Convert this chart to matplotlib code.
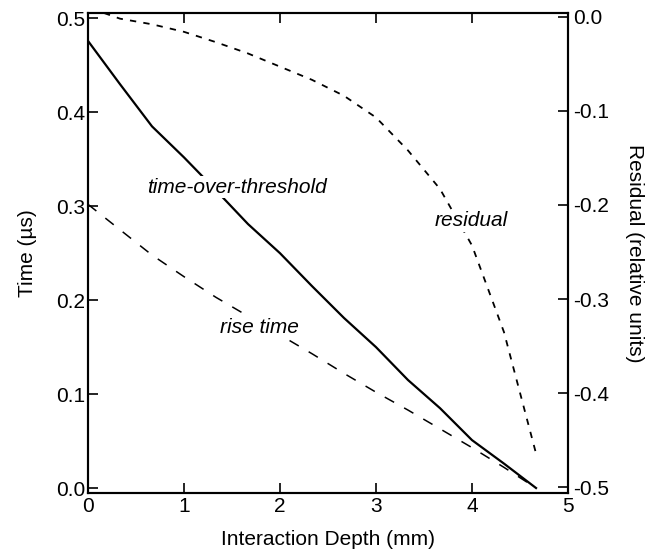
import matplotlib
matplotlib.use("Agg")
import matplotlib.pyplot as plt
import numpy as np

plt.rcParams['font.family'] = ['Liberation Sans', 'DejaVu Sans']
plt.rcParams['axes.unicode_minus'] = False

# interaction depth (mm)
depth = [0.0, 0.333, 0.667, 1.0, 1.333, 1.667, 2.0, 2.333, 2.667,
         3.0, 3.333, 3.667, 4.0, 4.333, 4.667]
# time-over-threshold (us)
tot = [0.476, 0.430, 0.385, 0.352, 0.317, 0.281, 0.250, 0.215, 0.181,
       0.150, 0.115, 0.085, 0.051, 0.026, 0.0]
# rise time (us)
rise = [0.302, 0.275, 0.248, 0.225, 0.203, 0.183, 0.163, 0.143, 0.122,
        0.102, 0.083, 0.063, 0.043, 0.022, 0.0]
# residual (relative units), right axis
res_depth = [0.167, 0.333, 0.667, 1.0, 1.333, 1.667, 2.0, 2.333, 2.667,
             3.0, 3.333, 3.667, 4.0, 4.333, 4.667]
residual = [0.004, -0.002, -0.008, -0.016, -0.027, -0.039, -0.053, -0.067,
            -0.084, -0.107, -0.142, -0.183, -0.243, -0.335, -0.464]

fig = plt.figure(figsize=(6.6, 5.58), dpi=100)
ax = fig.add_axes([0.1333, 0.1165, 0.7273, 0.8602])
ax2 = ax.twinx()

ax.plot(depth, tot, color='black', lw=1.6)
ax.plot(depth, rise, color='black', lw=1.1, dashes=(7, 7.5))
ax2.plot(res_depth, residual, color='black', lw=1.3, dashes=(3.5, 4))

ax.set_xlim(0, 5)
ax.set_ylim(-0.0053, 0.5057)
ax2.set_ylim(-0.506, 0.004)

ax.set_xticks([0, 1, 2, 3, 4, 5])
ax.set_yticks([0.0, 0.1, 0.2, 0.3, 0.4, 0.5])
ax.set_yticklabels(['0.0', '0.1', '0.2', '0.3', '0.4', '0.5'])
ax2.set_yticks([0.0, -0.1, -0.2, -0.3, -0.4, -0.5])
ax2.set_yticklabels(['0.0', '-0.1', '-0.2', '-0.3', '-0.4', '-0.5'])

for a in (ax, ax2):
    for s in a.spines.values():
        s.set_linewidth(1.5)

ax.tick_params(axis='x', direction='in', length=7, width=1.2, labelsize=15,
               top=True, pad=3)
ax.tick_params(axis='y', direction='in', length=7, width=1.2, labelsize=15,
               pad=2)
ax2.tick_params(axis='y', direction='in', length=7, width=1.2, labelsize=15,
                pad=4)

ax.set_xlabel('Interaction Depth (mm)', fontsize=15, labelpad=10)
ax.set_ylabel('Time (µs)', fontsize=15, labelpad=14)
ax2.set_ylabel('Residual (relative units)', fontsize=15, rotation=270,
               labelpad=25)

box = dict(facecolor='white', edgecolor='none', pad=1)
ax2.text(1.55, 0.319 - 0.5, 'time-over-threshold', style='italic',
         fontsize=15, ha='center', va='center', bbox=box)
ax2.text(1.79, 0.170 - 0.5, 'rise time', style='italic', fontsize=15,
         ha='center', va='center', bbox=box)
ax2.text(3.99, 0.283 - 0.5, 'residual', style='italic', fontsize=15,
         ha='center', va='center', bbox=box)

plt.savefig('out.png', dpi=100)
